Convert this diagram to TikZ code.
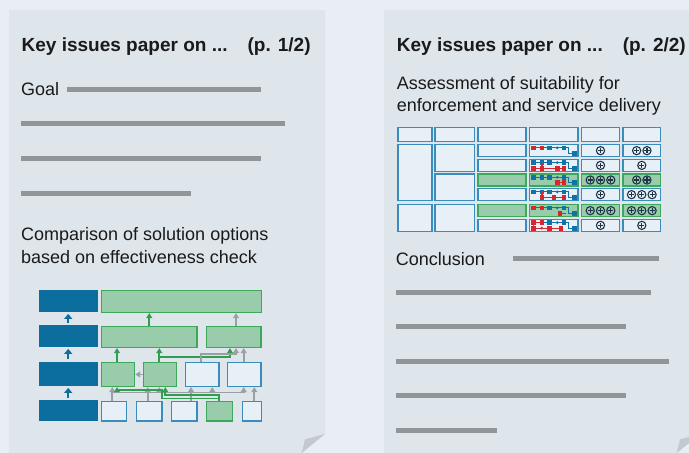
\documentclass[tikz,border=0pt]{standalone}
\usepackage{fontspec}
\setmainfont{Liberation Sans}
\usetikzlibrary{arrows.meta}
\definecolor{outerbg}{HTML}{E8EEF4}
\definecolor{pagebg}{HTML}{DEE5EB}
\definecolor{flapc}{HTML}{C3CACF}
\definecolor{rulegray}{HTML}{8F9598}
\definecolor{dblue}{HTML}{0B6E9D}
\definecolor{gfill}{HTML}{98CCAA}
\definecolor{gdraw}{HTML}{3DA85A}
\definecolor{wfill}{HTML}{E8F0F7}
\definecolor{wdraw}{HTML}{3A8CBC}
\definecolor{agray}{HTML}{9A9FA3}
\definecolor{agreen}{HTML}{2F9E4F}
\definecolor{mred}{HTML}{D9262E}
\definecolor{mblue}{HTML}{1172A5}
\definecolor{navy}{HTML}{1E3446}
\definecolor{txtc}{HTML}{1A1A1A}
\newcommand\msq[3]{\fill[#1] ({#2-2.4},{#3-2.4}) rectangle ({#2+2.4},{#3+2.4});}
\newcommand\mdt[3]{\fill[#1] (#2,#3) circle[radius=1.5pt];}
\newcommand\oprow[3]{\foreach \i in {1,...,#3}{\pic at ({#1+(\i-(#3+1)/2)*10.3},#2) {opl};}}
\tikzset{
  rulebar/.style={rulegray, line width=5pt},
  txt/.style={anchor=base west, inner sep=0pt, text=txtc, font=\fontsize{18}{22}\selectfont},
  ttl/.style={anchor=base west, inner sep=0pt, text=txtc, font=\fontsize{19}{23}\selectfont\bfseries},
  bbox/.style={fill=dblue, draw=none, inner sep=0pt, anchor=north west},
  gbox/.style={fill=gfill, draw=gdraw, line width=1.3pt, inner sep=0pt, anchor=north west},
  wbox/.style={fill=wfill, draw=wdraw, line width=1.3pt, inner sep=0pt, anchor=north west},
  garr/.style={agray, line width=1.7pt, -{Triangle[length=5pt,width=5.8pt]}},
  gln/.style={agray, line width=1.7pt},
  grarr/.style={agreen, line width=1.7pt, -{Triangle[length=5pt,width=5.8pt]}},
  barr/.style={dblue, line width=2.4pt, -{Triangle[length=5pt,width=8pt]}, shorten <=2pt, shorten >=1.5pt},
  tcell/.style={fill=wfill, draw=wdraw, line width=1.3pt},
  tgcell/.style={fill=gfill, draw=gdraw, line width=1.3pt},
  pics/opl/.style={code={
    \draw[navy, line width=1.1pt] (0,0) circle[radius=4.1pt];
    \draw[navy, line width=1.1pt] (-2.6,0) -- (2.6,0) (0,-2.6) -- (0,2.6);}}
}
\begin{document}
\begin{tikzpicture}[x=1pt,y=-1pt]
\useasboundingbox (0,0) rectangle (689,453);
\clip (0,0) rectangle (689,453);
\fill[outerbg] (0,0) rectangle (689,453);
% pages
\fill[pagebg] (9,10) -- (325,10) -- (325,434) -- (301.7,453) -- (9,453) -- cycle;
\fill[flapc] (325,434) -- (305,439.3) -- (301.7,453) -- cycle;
\fill[pagebg] (384,10) -- (700,10) -- (700,434) -- (676.7,453) -- (384,453) -- cycle;
\fill[flapc] (700,434) -- (680,439.3) -- (676.7,453) -- cycle;

% ---------- left page ----------
\node[ttl] (t1) at (21.5,51.3) {Key issues paper on ...\hspace{20pt}(p. 1/2)};
\node[txt] (goal) at (21,95.7) {Goal};
\draw[rulebar] (66.7,89) -- (260.7,89);
\draw[rulebar] (21,123.3) -- (285,123.3);
\draw[rulebar] (21,158.3) -- (260.7,158.3);
\draw[rulebar] (21,193) -- (191,193);
\node[txt] (cmp1) at (21,240.7) {Comparison of solution options};
\node[txt] (cmp2) at (21,263.3) {based on effectiveness check};

% diagram boxes
\node[bbox, minimum width=59.4pt, minimum height=22.5pt] (b1) at (38.3,289.5) {};
\node[bbox, minimum width=59.4pt, minimum height=22pt] (b2) at (38.3,325) {};
\node[bbox, minimum width=59.4pt, minimum height=24.7pt] (b3) at (38.3,361.3) {};
\node[bbox, minimum width=59.4pt, minimum height=20.5pt] (b4) at (38.3,400) {};

\node[gbox, minimum width=160pt, minimum height=21.8pt] (r1) at (100.5,290) {};
\node[gbox, minimum width=95.8pt, minimum height=21.3pt] (r2a) at (100.5,325.5) {};
\node[gbox, minimum width=54.3pt, minimum height=21.3pt] (r2b) at (206,325.5) {};
\node[gbox, minimum width=33.4pt, minimum height=24pt] (r3a) at (100.5,361.8) {};
\node[gbox, minimum width=33.3pt, minimum height=24pt] (r3b) at (142.7,361.8) {};
\node[wbox, minimum width=33.7pt, minimum height=24pt] (r3c) at (184.7,361.8) {};
\node[wbox, minimum width=33.3pt, minimum height=24pt] (r3d) at (227,361.8) {};
\node[wbox, minimum width=25.6pt, minimum height=19.8pt] (r4a) at (100.5,400.5) {};
\node[wbox, minimum width=25.7pt, minimum height=19.8pt] (r4b) at (135.7,400.5) {};
\node[wbox, minimum width=25.3pt, minimum height=19.8pt] (r4c) at (171,400.5) {};
\node[gbox, minimum width=25.9pt, minimum height=19.8pt] (r4d) at (206,400.5) {};
\node[wbox, minimum width=18.8pt, minimum height=19.8pt] (r4e) at (241.7,400.5) {};

% x positions
\coordinate (xA) at (112.3,0);
\coordinate (xB) at (147.7,0);
\coordinate (xC) at (191,0);
\coordinate (xE) at (254.3,0);
\coordinate (xg1) at (117,0);
\coordinate (xg2) at (165.3,0);
\coordinate (xg3) at (219,0);
\coordinate (xh1) at (159.3,0);
\coordinate (xh2) at (212.3,0);
\coordinate (xh3) at (243.7,0);
\coordinate (xu1) at (149.3,0);
\coordinate (xu2) at (236,0);
\coordinate (xm1) at (201,0);
\coordinate (xm2) at (230,0);

% blue arrows
\draw[barr] (b2.north) -- (b1.south);
\draw[barr] (b3.north) -- (b2.south);
\draw[barr] (b4.north) -- (b3.south);

% row4 -> row3 (gray)
\draw[gln] (112.3,392.5) -- (243.7,392.5);
\draw[garr] (r4a.north -| xA) -- (r3a.south -| xA);
\draw[garr] (159.3,392.5) -- (r3b.south -| xh1);
\draw[garr] (212.3,392.5) -- (r3c.south -| xh2);
\draw[garr] (243.7,392.5) -- (r3d.south -| xh3);
\draw[garr] (r4b.north -| xB) -- (r3b.south -| xB);
\draw[garr] (r4c.north -| xC) -- (r3c.south -| xC);
\draw[garr] (r4e.north -| xE) -- (r3d.south -| xE);
% row4 -> row3 (green)
\draw[grarr] (r4d.north -| xg3) -- (219,395.3) -- (165.3,395.3) -- (r3b.south -| xg2);
\draw[grarr] (r4d.north -| xg3) -- (219,398.4) -- (162,398.4) -- (162,389.8) -- (117,389.8) -- (r3a.south -| xg1);

% row3 -> row2
\draw[grarr] (r3a.north -| xg1) -- (r2a.south -| xg1);
\draw[grarr] (r3b.north -| xh1) -- (r2a.south -| xh1);
\draw[grarr] (159.3,357.3) -- (230,357.3) -- (r2b.south -| xm2);
\draw[garr] (r3c.north -| xm1) -- (201,354) -- (236,354) -- (r2b.south -| xu2);
\draw[garr] (r3d.north -| xh3) -- (r2b.south -| xh3);
\draw[garr] (r3b.west) -- (r3a.east);
% row2 -> row1
\draw[grarr] (r2a.north -| xu1) -- (r1.south -| xu1);
\draw[garr] (r2b.north -| xu2) -- (r1.south -| xu2);

% ---------- right page ----------
\node[ttl] (t2) at (396.7,51.3) {Key issues paper on ...\hspace{20pt}(p. 2/2)};
\node[txt] (as1) at (396.7,89) {Assessment of suitability for};
\node[txt] (as2) at (396.7,111.5) {enforcement and service delivery};

% table
\foreach \xa/\xb in {397.3/432.7,434.3/475,477.3/526.7,529/578.7,581/620,622.3/661.3}
  \draw[tcell] (\xa+0.6,127.3) rectangle (\xb-0.6,141.7);
\draw[tcell] (397.9,144.6) rectangle (432.1,200.7);
\draw[tcell] (397.9,204.6) rectangle (432.1,231.4);
\draw[tcell] (434.9,144.6) rectangle (474.4,171.4);
\draw[tcell] (434.9,173.9) rectangle (474.4,200.7);
\draw[tcell] (434.9,204.6) rectangle (474.4,231.4);
\foreach \ya/\yb/\st in {144/157.3/tcell,158.7/172/tcell,173.3/186.7/tgcell,188/201.3/tcell,204/217.3/tgcell,218.7/232/tcell}
  \foreach \xa/\xb in {477.3/526.7,529/578.7,581/620,622.3/661.3}
    \draw[\st] (\xa+0.6,\ya+0.6) rectangle (\xb-0.6,\yb-0.6);

% circled plus
\oprow{600.5}{150.65}{1} \oprow{641.8}{150.65}{2}
\oprow{600.5}{165.35}{1} \oprow{641.8}{165.35}{1}
\oprow{600.5}{180}{3}    \oprow{641.8}{180}{2}
\oprow{600.5}{194.65}{1} \oprow{641.8}{194.65}{3}
\oprow{600.5}{210.65}{3} \oprow{641.8}{210.65}{3}
\oprow{600.5}{225.35}{1} \oprow{641.8}{225.35}{1}

% mini diagrams (top row T, bottom row B)
\foreach \yt/\pat in {144/1,158.7/2,173.3/3,188/4,204/5,218.7/6}{
  \pgfmathsetmacro\T{\yt+3.9}
  \pgfmathsetmacro\B{\yt+9.4}
  \draw[mblue, line width=1.1pt] (533.2,\T) -- (568.5,\T) -- (568.5,\B) -- (574.5,\B);
  \msq{mblue}{574.5}{\B}
  \msq{mblue}{549.7}{\T}
  \mdt{mblue}{557.3}{\T}
  \msq{mblue}{564}{\T}
  \ifnum\pat=1
    \draw[mred, line width=1.1pt] (533.2,\T) -- (542,\T);
    \msq{mred}{533.2}{\T} \msq{mred}{542}{\T}
  \fi
  \ifnum\pat=2
    \msq{mblue}{533.2}{\T} \msq{mblue}{542}{\T}
    \draw[mred, line width=1.1pt] (533.2,\B) -- (564,\B) (542,\T) -- (542,\B);
    \msq{mred}{533.2}{\B} \msq{mred}{542}{\B} \msq{mred}{557.3}{\B} \msq{mred}{564}{\B}
  \fi
  \ifnum\pat=3
    \msq{mblue}{533.2}{\T} \msq{mblue}{542}{\T}
    \draw[mred, line width=1.1pt] (557.3,\B) -- (564,\B);
    \msq{mred}{557.3}{\B} \msq{mred}{564}{\B}
  \fi
  \ifnum\pat=4
    \msq{mblue}{533.2}{\T} \msq{mblue}{542}{\T}
    \draw[mred, line width=1.1pt] (542,\B) -- (564,\B) (542,\T) -- (542,\B);
    \msq{mred}{542}{\B} \msq{mred}{554}{\B} \msq{mred}{564}{\B}
  \fi
  \ifnum\pat=5
    \draw[mred, line width=1.1pt] (533.2,\T) -- (542,\T);
    \msq{mred}{533.2}{\T} \msq{mred}{542}{\T}
    \draw[mred, line width=1.1pt] (560,\B) -- (566,\B);
    \msq{mred}{560}{\B}
  \fi
  \ifnum\pat=6
    \draw[mred, line width=1.1pt] (533.2,\T) -- (542,\T) (533.2,\T) -- (533.2,\B) -- (561,\B);
    \msq{mred}{533.2}{\T} \msq{mred}{542}{\T}
    \msq{mred}{533.2}{\B} \mdt{mred}{541.7}{\B} \msq{mred}{549.7}{\B} \msq{mred}{561}{\B}
  \fi
}

\node[txt] (concl) at (395.7,265) {Conclusion};
\draw[rulebar] (513.3,258) -- (658.7,258);
\draw[rulebar] (396,292.3) -- (650.7,292.3);
\draw[rulebar] (396,326.7) -- (625.7,326.7);
\draw[rulebar] (396,361) -- (669.3,361);
\draw[rulebar] (396,395.3) -- (625.7,395.3);
\draw[rulebar] (396,430) -- (496.7,430);
\end{tikzpicture}
\end{document}
